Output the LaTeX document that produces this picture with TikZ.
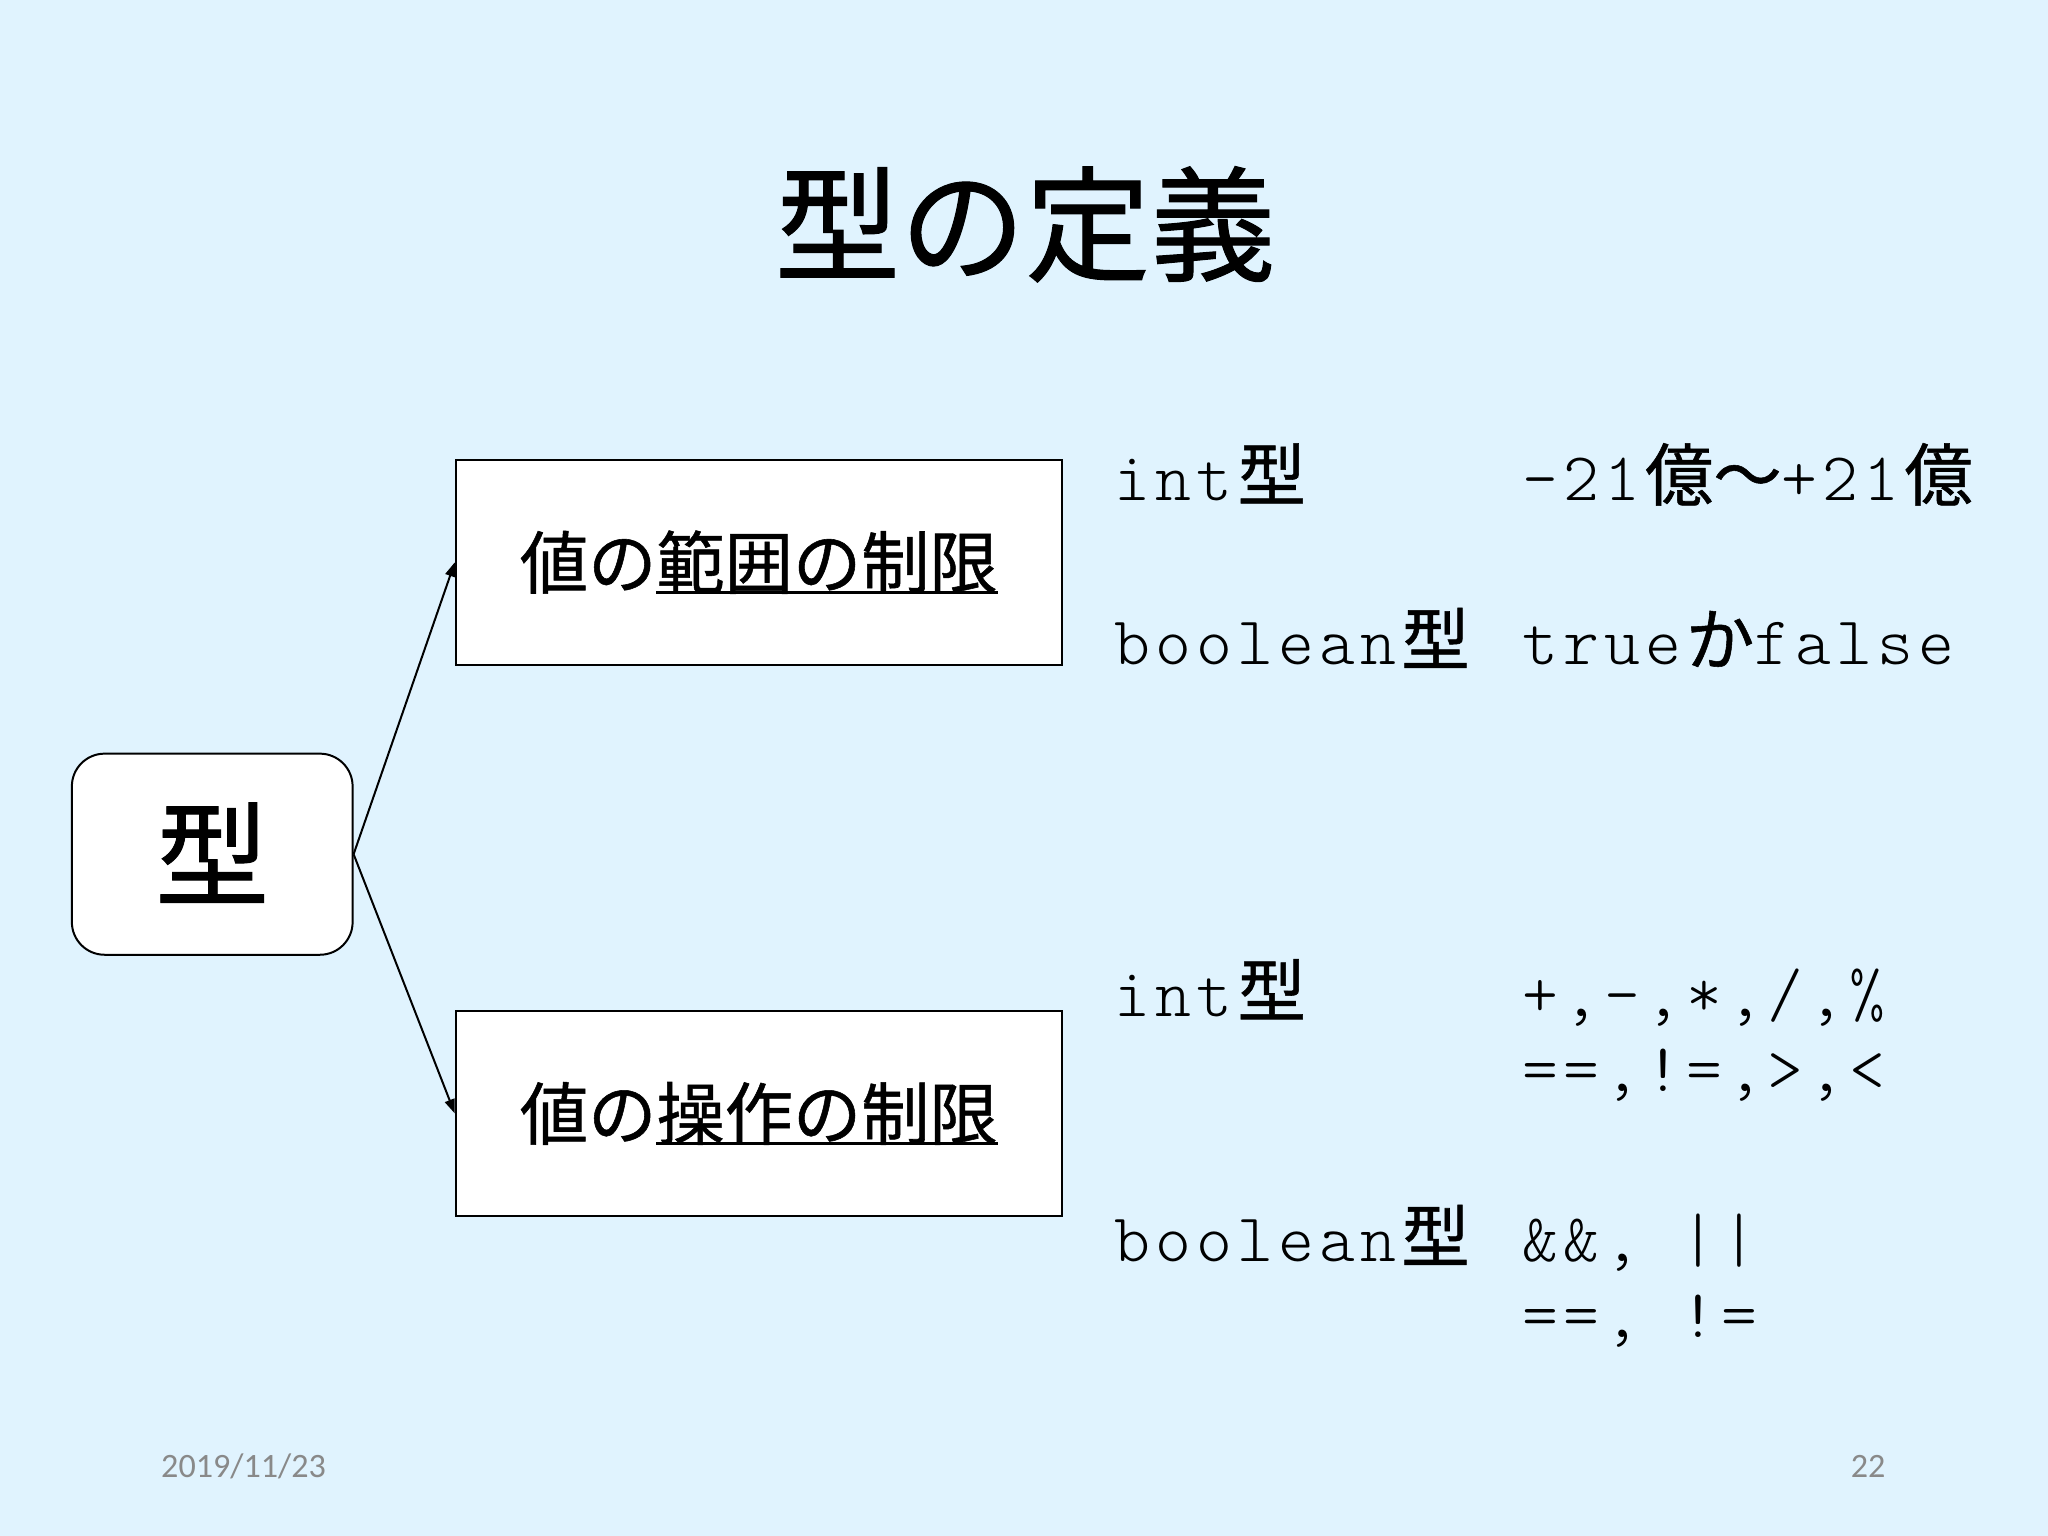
\documentclass[tikz,border=0pt]{standalone}
\usepackage{fontspec}
\setmainfont{Noto Sans CJK JP}[FakeBold=0.8]
\setmonofont{Latin Modern Mono Light}[LetterSpace=7.5]
\setsansfont{Carlito}
\usetikzlibrary{arrows.meta}
\definecolor{slidebg}{RGB}{224,243,254}
\definecolor{footgray}{RGB}{137,137,137}
\newcommand\uln[1]{\setbox0\hbox{#1}\rlap{\rule[-2pt]{\wd0}{0.9pt}}\box0}

\begin{document}
\begin{tikzpicture}
[
    x=0.459184pt, y=-0.459184pt,
    box/.style={draw, fill=white, line width=0.7pt, minimum width=213.1pt, minimum height=72.1pt,
        inner sep=0pt, font=\fontsize{24}{24}\selectfont, text height=19.9pt, text depth=1.7pt},
    kbox/.style={box, rounded corners=11.5pt, minimum width=98.7pt, minimum height=70.7pt,
        font=\fontsize{40}{40}\selectfont, text height=33.2pt, text depth=2.8pt},
    item/.style={anchor=base west, inner sep=0pt, font=\fontsize{24}{24}\selectfont},
    foot/.style={inner sep=0pt, text=footgray, font=\sffamily\fontsize{12}{12}\selectfont},
    link/.style={-{Triangle[length=5pt,width=3.5pt]}, line width=0.7pt},
]
\fill[slidebg] (0,0) rectangle (1568,1176);

\node[anchor=base, inner sep=0pt, font=\fontsize{44}{44}\selectfont] (title) at (785,208) {型の定義};

\node[kbox] (kata) at (162.5,654) {型};
\node[box] (range) at (581,430.5) {値の\uln{範囲の制限}};
\node[box] (ops) at (581,852.5) {値の\uln{操作の制限}};

\draw[link] (kata.east) -- (range.west);
\draw[link] (kata.east) -- (ops.west);

% range
\node[item] (rint) at (853,383) {\texttt{int}型};
\node[item] (rintv) at (1165,383) {\texttt{-21}億〜\texttt{+21}億};
\node[item] (rbool) at (853,509) {\texttt{boolean}型};
\node[item] (rboolv) at (1165,509) {\texttt{true}か\texttt{false}};

% operations
\node[item] (oint) at (853,778) {\texttt{int}型};
\node[item] (ointa) at (1165,778) {\texttt{+,-,*,/,\%}};
\node[item] (ointb) at (1165,836) {\texttt{==,!=,>,<}};
\node[item] (obool) at (853,966) {\texttt{boolean}型};
\node[item] (oboola) at (1165,966) {\texttt{\&\&, ||}};
\node[item] (oboolb) at (1165,1024) {\texttt{==, !=}};

\node[foot, anchor=base west] (date) at (123,1131) {2019/11/23};
\node[foot, anchor=base east] (page) at (1444,1131) {22};
\end{tikzpicture}
\end{document}
